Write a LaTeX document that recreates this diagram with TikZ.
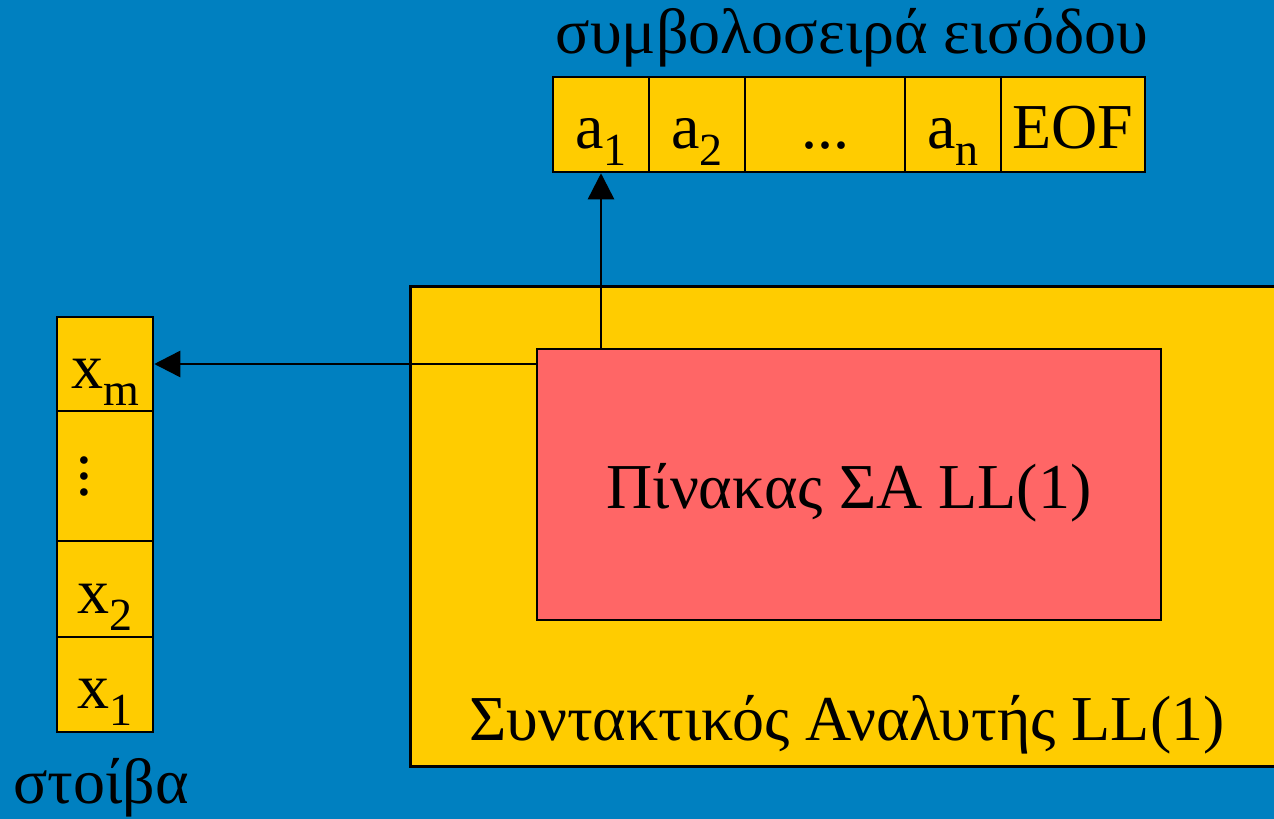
\documentclass[tikz,border=0pt]{standalone}
\usepackage{fontspec}
\setmainfont{Liberation Serif}
\usetikzlibrary{arrows.meta}
\definecolor{bg}{RGB}{0,128,192}
\definecolor{yel}{RGB}{255,204,0}
\definecolor{pinkred}{RGB}{255,102,102}
\newcommand\sbs[1]{\raisebox{-0.27em}{\fontsize{46}{46}\selectfont #1}}
\begin{document}
\begin{tikzpicture}[x=1pt,y=-1pt,
  cell/.style={draw=black, line width=2.5pt, fill=yel, inner sep=0pt,
    font=\fontsize{64}{76}\selectfont, text height=48pt, text depth=0pt},
  lbl/.style={inner sep=0pt, font=\fontsize{64}{76}\selectfont},
  arr/.style={draw=black, line width=2.5pt, -{Triangle[length=26pt,width=26pt]}}]
\fill[bg] (0,0) rectangle (1274,819);
\useasboundingbox (0,0) rectangle (1274,819);
% input tape
\node[cell, minimum width=96pt, minimum height=95pt] (a1) at (601,124.5) {a\sbs{1}};
\node[cell, minimum width=96pt, minimum height=95pt] (a2) at (697,124.5) {a\sbs{2}};
\node[cell, minimum width=160pt, minimum height=95pt] (ad) at (825,124.5) {...};
\node[cell, minimum width=96pt, minimum height=95pt] (an) at (953,124.5) {a\sbs{n}};
\node[cell, minimum width=144pt, minimum height=95pt] (eof) at (1073,124.5) {EOF};
\node[lbl, anchor=base] (title) at (852,53) {συμβολοσειρά εισόδου};
% stack
\node[cell, minimum width=96pt, minimum height=94pt] (xm) at (105,364) {x\sbs{m}};
\node[cell, minimum width=96pt, minimum height=130pt] (xd) at (105,476) {};
\node[inner sep=0pt, font=\fontsize{64}{76}\selectfont] (vd) at (84,476) {\rotatebox{-90}{...}};
\node[cell, minimum width=96pt, minimum height=96pt] (x2) at (105,589) {x\sbs{2}};
\node[cell, minimum width=96pt, minimum height=95pt] (x1) at (105,684.5) {x\sbs{1}};
\node[lbl, anchor=base west] (stack) at (13,803) {στοίβα};
% parser
\node[draw=black, line width=2.5pt, fill=yel, anchor=north west,
  minimum width=880pt, minimum height=480pt, inner sep=0pt] (parser) at (409,285) {};
\node[lbl, anchor=base] (parserlbl) at (847,740) {Συντακτικός Αναλυτής LL(1)};
\node[draw=black, line width=2.5pt, fill=pinkred, minimum width=624pt,
  minimum height=271pt, inner sep=0pt] (table) at (849,484.5) {};
\node[lbl, anchor=base] (tablelbl) at (849,508) {Πίνακας ΣΑ LL(1)};
% connectors
\draw[arr] (a1.south |- table.north) -- (a1.south);
\draw[arr] (table.west |- xm.east) -- (xm.east);
\end{tikzpicture}
\end{document}
